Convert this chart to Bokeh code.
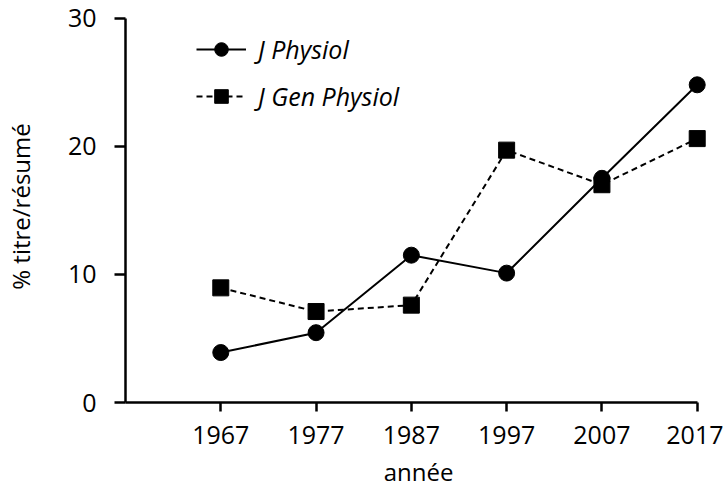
from bokeh.plotting import figure
from bokeh.models import Legend, LegendItem, Range1d, FixedTicker
from bokeh.embed import file_html
from bokeh.resources import INLINE

years = [1967, 1977, 1987, 1997, 2007, 2017]
j_physiol = [3.9, 5.45, 11.5, 10.1, 17.5, 24.8]
j_gen_physiol = [8.95, 7.1, 7.6, 19.7, 17.0, 20.6]
x_ticks = [1967, 1977, 1987, 1997, 2007, 2017]
y_ticks = [0, 10, 20, 30]

FONT = "Open Sans"

p = figure(width=723, height=490, output_backend="svg", toolbar_location=None,
           x_range=Range1d(1957, 2018.5), y_range=Range1d(0, 30.6),
           min_border_left=122, min_border_right=12, min_border_top=10, min_border_bottom=87)
p.outline_line_color = None
p.grid.visible = False
p.background_fill_color = "white"

l1 = p.line(years, j_physiol, line_color="black", line_width=2)
s1 = p.scatter(years, j_physiol, marker="circle", size=16, fill_color="black", line_color="black")
l2 = p.line(years, j_gen_physiol, line_color="black", line_width=2, line_dash="6 4")
s2 = p.scatter(years, j_gen_physiol, marker="square", size=16, fill_color="black", line_color="black")

for ax in (p.xaxis[0], p.yaxis[0]):
    ax.axis_line_width = 2.5
    ax.axis_line_color = "black"
    ax.major_tick_line_width = 2.5
    ax.major_tick_line_color = "black"
    ax.minor_tick_line_color = None
    ax.major_tick_in = 0
    ax.major_label_text_font = FONT
    ax.major_label_text_font_size = "25px"
    ax.major_label_text_color = "black"
    ax.axis_label_text_font = FONT
    ax.axis_label_text_font_size = "24px"
    ax.axis_label_text_font_style = "normal"
    ax.axis_label_text_color = "black"

p.xaxis.ticker = FixedTicker(ticks=x_ticks)
p.xaxis.bounds = (1957, 2017)
p.xaxis.major_tick_out = 9
p.xaxis.major_label_standoff = 14
p.xaxis.axis_label = "année"
p.xaxis.axis_label_standoff = 8

p.yaxis.ticker = FixedTicker(ticks=y_ticks)
p.yaxis.bounds = (0, 30)
p.yaxis.major_tick_out = 11
p.yaxis.major_label_standoff = 18
p.yaxis.axis_label = "% titre/résumé"
p.yaxis.axis_label_standoff = 28

legend = Legend(items=[LegendItem(label="J Physiol", renderers=[l1, s1]),
                       LegendItem(label="J Gen Physiol", renderers=[l2, s2])],
                location=(71, 289), glyph_width=50, glyph_height=34, label_height=34,
                spacing=13, padding=0, margin=0, label_standoff=12,
                border_line_color=None, background_fill_alpha=0,
                label_text_font=FONT, label_text_font_size="25px",
                label_text_font_style="italic", label_text_color="black")
p.add_layout(legend, "center")

open("out.html", "w").write(file_html(p, INLINE))
